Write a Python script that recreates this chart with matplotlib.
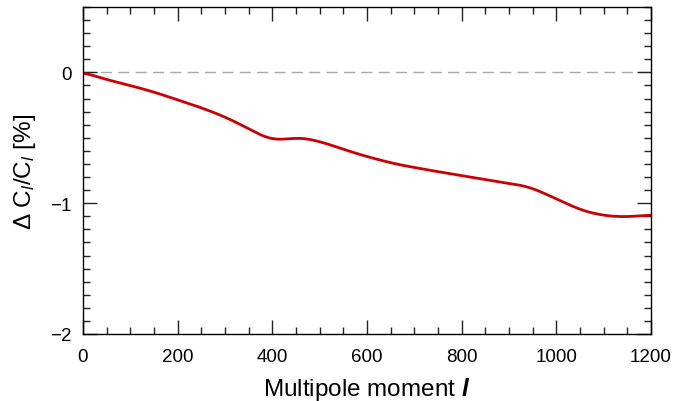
import numpy as np
import matplotlib.pyplot as plt
from matplotlib.ticker import MultipleLocator

plt.rcParams['font.family'] = ['Liberation Sans', 'DejaVu Sans']
plt.rcParams['mathtext.fontset'] = 'custom'
plt.rcParams['mathtext.it'] = 'Liberation Sans:italic'
plt.rcParams['mathtext.rm'] = 'Liberation Sans'
plt.rcParams['mathtext.bfit'] = 'Liberation Sans:italic:bold'

# values (multipole l, delta C_l / C_l in %)
ell = [0, 50, 100, 150, 200, 250, 300, 350, 375, 395, 415, 440, 460, 480, 520,
       560, 606, 660, 712, 760, 818, 866, 910, 938, 972, 1008, 1050, 1092,
       1135, 1165, 1200]
dcl = [0.0, -0.055, -0.10, -0.15, -0.21, -0.27, -0.34, -0.43, -0.48, -0.51,
       -0.515, -0.505, -0.50, -0.51, -0.55, -0.60, -0.65, -0.70, -0.735,
       -0.765, -0.80, -0.83, -0.855, -0.87, -0.92, -0.98, -1.05, -1.09,
       -1.105, -1.10, -1.09]

fig = plt.figure(figsize=(6.75, 4.02), dpi=100)
ax = fig.add_axes([83 / 675, 67 / 402, 568 / 675, 327 / 402])

ax.axhline(0, color='#a3abab', lw=1, ls=(0, (8, 4.5)), zorder=1)

# smooth the read points a bit for drawing
xs = np.linspace(0, 1200, 600)
ys = np.interp(xs, ell, dcl)
k = np.ones(25) / 25
ys_s = np.convolve(np.pad(ys, 12, mode='edge'), k, mode='valid')
ax.plot(xs, ys_s, color='#cc0000', lw=2, zorder=2)

ax.set_xlim(0, 1200)
ax.set_ylim(-2, 0.5)
ax.xaxis.set_major_locator(MultipleLocator(200))
ax.xaxis.set_minor_locator(MultipleLocator(50))
ax.yaxis.set_major_locator(MultipleLocator(1))
ax.yaxis.set_minor_locator(MultipleLocator(0.1))
ax.tick_params(which='both', direction='in', top=True, right=True,
               labelsize=13.5, width=1, color='#222222')
ax.tick_params(which='major', length=10)
ax.tick_params(axis='x', which='major', pad=10)
ax.tick_params(axis='y', which='major', pad=8)
ax.tick_params(which='minor', length=5)
for s in ax.spines.values():
    s.set_linewidth(1)

ax.set_xlabel(r'Multipole moment $\mathbfit{l}$', fontsize=17.5, labelpad=7)
ax.set_ylabel(r'$\Delta$ C$_{\mathit{l}}$/C$_{\mathit{l}}$ [%]', fontsize=17.5, labelpad=9)

fig.savefig('out.png', dpi=100)
